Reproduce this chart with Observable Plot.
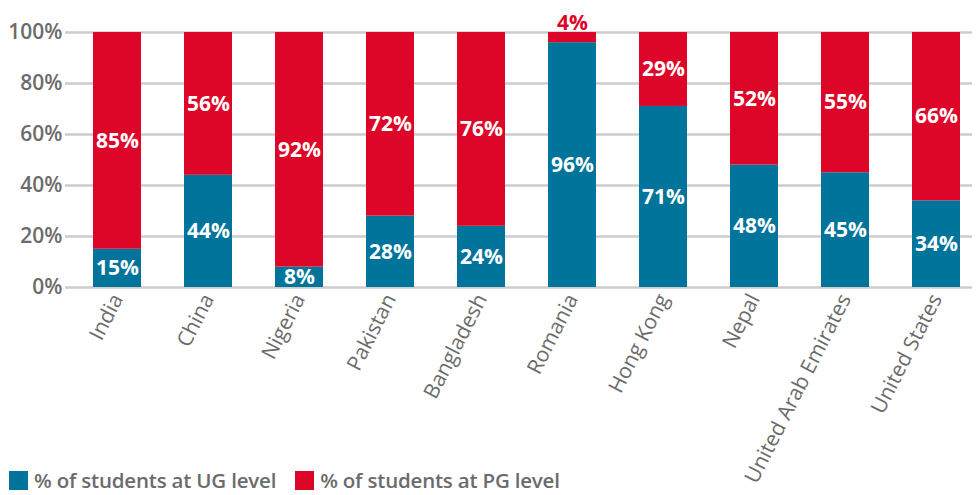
<!DOCTYPE html>
<html>
<head>
<meta charset="utf-8">
<script src="https://cdn.jsdelivr.net/npm/d3@7"></script>
<script src="https://cdn.jsdelivr.net/npm/@observablehq/plot@0.6"></script>
<style>
  html, body { margin: 0; padding: 0; background: #fff; }
  #wrap { position: relative; width: 976px; height: 495px; font-family: "Open Sans", sans-serif; overflow: visible; }
  #legend { position: absolute; left: 9px; top: 468px; display: flex; align-items: center; font-size: 20.5px; line-height: 24px; font-weight: 600; color: #6b6b6b; letter-spacing: -0.2px; }
  .sw { display: inline-block; width: 19px; height: 19px; margin-right: 6px; }
  .item { display: flex; align-items: center; margin-right: 19px; white-space: nowrap; }
</style>
</head>
<body>
<div id="wrap">
  <div id="chart"></div>
  <div id="legend"></div>
</div>
<script>
const countries = ["India","China","Nigeria","Pakistan","Bangladesh","Romania","Hong Kong","Nepal","United Arab Emirates","United States"];
const ugValues = [15,44,8,28,24,96,71,48,45,34];
const pgValues = [85,56,92,72,76,4,29,52,55,66];
const seriesNames = ["% of students at UG level","% of students at PG level"];
const seriesColors = ["#00749a","#dd0528"];
const yTicks = [0,20,40,60,80,100];

const rows = [];
countries.forEach((c, i) => {
  rows.push({country: c, series: seriesNames[0], value: ugValues[i]});
  rows.push({country: c, series: seriesNames[1], value: pgValues[i]});
});

const gray = "#6b6b6b";
const chart = Plot.plot({
  width: 976,
  height: 495,
  marginTop: 32,
  marginBottom: 208,
  marginLeft: 65,
  marginRight: 4,
  style: {fontFamily: "Open Sans, sans-serif", background: "transparent"},
  x: {domain: countries, range: [89, 964], paddingInner: 0.478, paddingOuter: 0, label: null},
  y: {domain: [0, 100], label: null},
  color: {domain: seriesNames, range: seriesColors},
  marks: [
    Plot.ruleY(yTicks, {stroke: "#cccccc", strokeWidth: 2.5}),
    Plot.barY(rows, Plot.stackY({x: "country", y: "value", fill: "series", order: seriesNames})),
    Plot.text(rows, Plot.stackY({x: "country", y: "value", z: "series", order: seriesNames, text: d => d.value >= 6 ? d.value + "%" : null, fill: "white", fontSize: 21, fontWeight: 700})),
    Plot.text(rows, Plot.stackY2({x: "country", y: "value", z: "series", order: seriesNames, text: d => d.value < 6 ? d.value + "%" : null, fill: seriesColors[1], fontSize: 21, fontWeight: 700, lineAnchor: "bottom", dy: -3})),
    Plot.axisY({ticks: yTicks, tickFormat: d => d + "%", tickSize: 0, tickPadding: 3, fontSize: 21, fontWeight: 600, fill: gray, label: null}),
    Plot.axisX({tickSize: 0, tickRotate: -63, tickPadding: 8, fontSize: 21, fill: gray, label: null})
  ]
});
document.getElementById("chart").appendChild(chart);

const legend = document.getElementById("legend");
seriesNames.forEach((n, i) => {
  const it = document.createElement("span");
  it.className = "item";
  it.innerHTML = `<span class="sw" style="background:${seriesColors[i]}"></span>${n}`;
  legend.appendChild(it);
});
</script>
</body>
</html>
